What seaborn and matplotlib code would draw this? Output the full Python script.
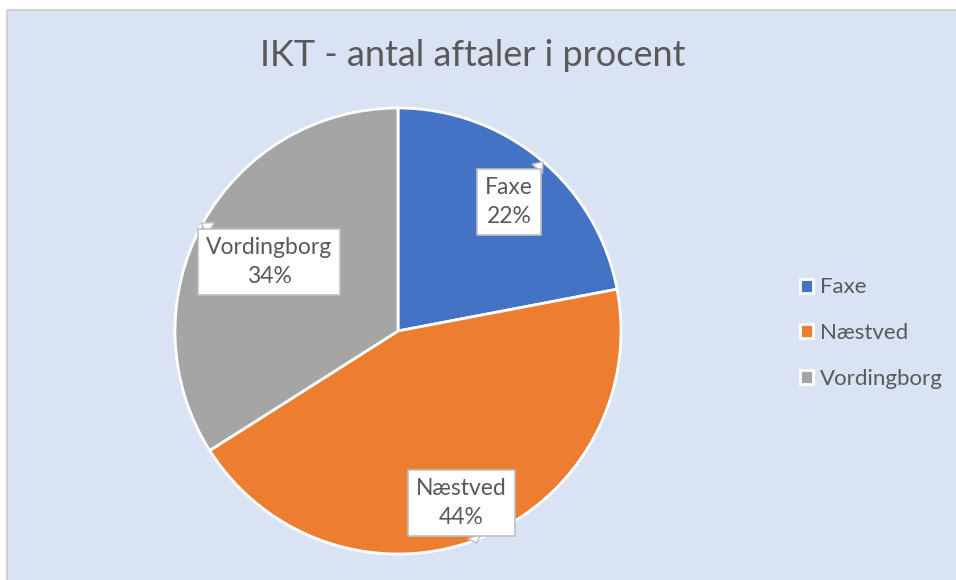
import matplotlib
matplotlib.use("Agg")
import matplotlib.pyplot as plt
import matplotlib.patches as mpatches
from matplotlib.lines import Line2D
import seaborn as sns

# Data
kommuner = ["Faxe", "Næstved", "Vordingborg"]
andele = [22, 44, 34]
farver = ["#4472C4", "#ED7D31", "#A5A5A5"]
titel = "IKT - antal aftaler i procent"

sns.set_theme(style="white")
plt.rcParams["font.family"] = ["Lato", "DejaVu Sans"]
tekstfarve = "#595959"

fig = plt.figure(figsize=(9.56, 5.8), dpi=100, facecolor="#DAE3F3", linewidth=0)

# white strip on left and top, thin grey border
x0, y1 = 7 / 956, 1 - 10 / 580
fig.patches.append(mpatches.Rectangle((0, 0), x0, 1, transform=fig.transFigure,
                                      facecolor="white", edgecolor="none", zorder=-5))
fig.patches.append(mpatches.Rectangle((0, y1), 1, 1 - y1, transform=fig.transFigure,
                                      facecolor="white", edgecolor="none", zorder=-5))
fig.add_artist(Line2D([x0, x0, 1.01], [-0.01, y1, y1], transform=fig.transFigure,
                      color="#D0D0D0", lw=1.5, zorder=-4))

# pie axes: centre (398, 331) px, radius 223 px
cx, cy, r = 398, 331, 223
ax = fig.add_axes([(cx - r) / 956, (580 - cy - r) / 580, 2 * r / 956, 2 * r / 580])
ax.set_facecolor("none")
wedges, _ = ax.pie(andele, colors=farver, startangle=90, counterclock=False,
                   radius=1, wedgeprops=dict(edgecolor="white", linewidth=2))
ax.set_xlim(-1, 1)
ax.set_ylim(-1, 1)
ax.set_aspect("equal")
ax.axis("off")

# label box positions (Excel best fit) and callout tips, in pie units
box_pos = [(0.498, 0.578), (0.283, -0.771), (-0.578, 0.309)]
tip_pos = [(0.65, 0.758), (0.354, -0.951), (-0.883, 0.484)]
for navn, v, bp, tp in zip(kommuner, andele, box_pos, tip_pos):
    ax.annotate(f"{navn}\n{v}%", xy=tp, xytext=bp, ha="center", va="center",
                fontsize=16.5, color=tekstfarve, linespacing=1.45,
                bbox=dict(boxstyle="square,pad=0.35", fc="white", ec="#BFBFBF", lw=1.2),
                arrowprops=dict(arrowstyle="wedge,tail_width=0.6", fc="white",
                                ec="#BFBFBF", lw=1.0, shrinkA=0, shrinkB=0))

fig.text(473 / 956, 1 - 55 / 580, titel, ha="center", va="center",
         fontsize=26, color=tekstfarve)

handles = [mpatches.Patch(facecolor=c, edgecolor="white", linewidth=2) for c in farver]
fig.legend(handles, kommuner, loc="center left", bbox_to_anchor=(780 / 956, 1 - 333 / 580),
           frameon=False, fontsize=16, labelcolor=tekstfarve, handlelength=0.6,
           handleheight=0.6, handletextpad=0.3, labelspacing=1.15)

fig.savefig("out.png", dpi=100)
